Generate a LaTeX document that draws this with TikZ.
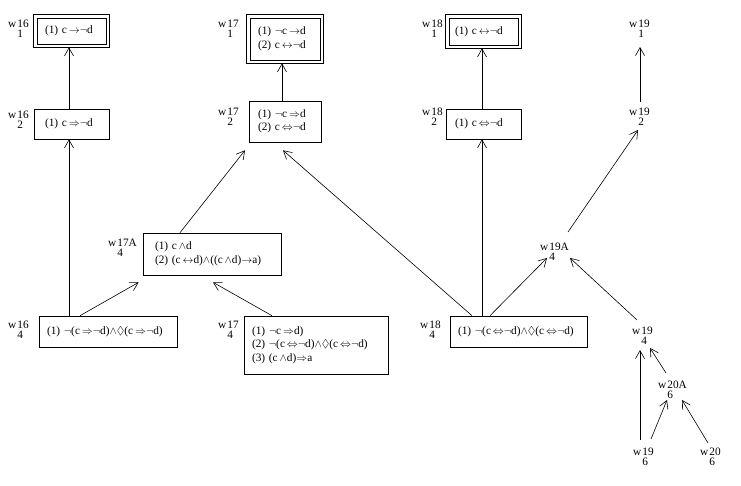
\documentclass[tikz,border=0pt]{standalone}
\usepackage{amssymb}
\usepackage{fontspec}
\setmainfont{Liberation Serif}
\usetikzlibrary{arrows.meta}
\newcommand\xR{$\mathord{\Rightarrow}$}
\newcommand\xT{$\mathord{\rightarrow}$}
\newcommand\xI{$\mathord{\Leftrightarrow}$}
\newcommand\xB{$\mathord{\leftrightarrow}$}
\newcommand\xN{$\neg$}
\newcommand\xA{$\mathord{\wedge}$}
\newcommand\xD{$\Diamond$}
\newcommand\wl[3]{w\kern1pt\vtop{\baselineskip=10pt\hbox{#1}\hbox{#2}}#3}
\tikzset{
  bx/.style={draw, line width=0.6pt, align=left, inner ysep=0pt, font=\fontsize{11.3}{13.5}\selectfont},
  outerline/.style={draw, line width=0.6pt},
  lab/.style={inner sep=0pt, anchor=base west, font=\fontsize{11.3}{13.5}\selectfont},
  arr/.style={-{Straight Barb[length=8pt,width=9pt]}, line width=0.6pt}
}
\begin{document}
\begin{tikzpicture}[x=1pt,y=-1pt]
\useasboundingbox (0,0) rectangle (741,486);
% boxes
\node[bx, text width=53pt, inner xsep=8pt, minimum height=26pt] (A1) at (71.5,31) {(1) c\,\xT\xN d};
\node[bx, text width=53pt, inner xsep=11pt, minimum height=30pt] (A2) at (71.5,124) {(1) c\,\xR\xN d};
\node[bx, text width=122pt, inner xsep=8pt, minimum height=31pt] (A4) at (108,331.5) {(1) \xN(c\,\xR\xN d)\xA\xD(c\,\xR\xN d)};
\node[bx, text width=54pt, inner xsep=8pt, minimum height=42pt] (B1) at (285,39) {(1) \xN c\,\xT d\\(2) c\,\xB\xN d};
\node[bx, text width=54pt, inner xsep=9pt, minimum height=41pt] (B2) at (285,121.5) {(1) \xN c\,\xR d\\(2) c\,\xI\xN d};
\node[bx, text width=114pt, inner xsep=12pt, minimum height=42pt] (B4A) at (212,254) {(1) c\,\xA d\\(2) (c\,\xB d)\xA((c\,\xA d)\xT a)};
\node[bx, text width=128pt, inner xsep=8pt, minimum height=58pt] (B4) at (316,345) {(1) \xN c\,\xR d)\\(2) \xN(c\,\xI\xN d)\xA\xD(c\,\xI\xN d)\\(3) (c\,\xA d)\xR a};
\node[bx, text width=57pt, inner xsep=6pt, minimum height=27pt] (C1) at (483.5,31.5) {(1) c\,\xB\xN d};
\node[bx, text width=57pt, inner xsep=9pt, minimum height=30pt] (C2) at (483.5,124) {(1) c\,\xI\xN d};
\node[bx, text width=121pt, inner xsep=8pt, minimum height=31pt] (C4) at (518.5,331.5) {(1) \xN(c\,\xI\xN d)\xA\xD(c\,\xI\xN d)};
% outer lines of the double boxes
\foreach \n in {A1,B1,C1}
  \path[outerline] ([shift={(-3,-3)}]\n.north west) rectangle ([shift={(3,3)}]\n.south east);
% labels
\node[lab] (L161) at (8,27.5) {\wl{16}{1}{}};
\node[lab] (L162) at (8,119) {\wl{16}{2}{}};
\node[lab] (L164) at (8,328) {\wl{16}{4}{}};
\node[lab] (L171) at (218,27.5) {\wl{17}{1}{}};
\node[lab] (L172) at (218,116) {\wl{17}{2}{}};
\node[lab] (L174A) at (108,247) {\wl{17}{4}{A}};
\node[lab] (L174) at (218,328) {\wl{17}{4}{}};
\node[lab] (L181) at (422,27.5) {\wl{18}{1}{}};
\node[lab] (L182) at (422,116) {\wl{18}{2}{}};
\node[lab] (L184) at (420,328) {\wl{18}{4}{}};
\node[lab] (L191) at (629,27.5) {\wl{19}{1}{}};
\node[lab] (L192) at (629,116) {\wl{19}{2}{}};
\node[lab] (L194A) at (540,251) {\wl{19}{4}{A}};
\node[lab] (L194) at (632,334) {\wl{19}{4}{}};
\node[lab] (L206A) at (658,388) {\wl{20}{6}{A}};
\node[lab] (L196) at (633,455) {\wl{19}{6}{}};
\node[lab] (L206) at (700,455) {\wl{20}{6}{}};
% connectors
\draw[arr] ([shift={(-2.5,0)}]A2.north) -- ([shift={(-2.5,3)}]A1.south);
\draw[arr] ([shift={(-39,0)}]A4.north) -- ([shift={(-2.5,0)}]A2.south);
\draw[arr] ([shift={(-28,0)}]A4.north) -- ([shift={(-4,7)}]B4A.south west);
\draw[arr] ([shift={(-44,0)}]B4.north) -- ([shift={(1,7)}]B4A.south);
\draw[arr] ([shift={(-32,0)}]B4A.north) -- ([shift={(-40,8)}]B2.south);
\draw[arr] ([shift={(-3,0)}]B2.north) -- ([shift={(-3,3)}]B1.south);
\draw[arr] ([shift={(-46.5,0)}]C4.north) -- ([shift={(-2,8)}]B2.south);
\draw[arr] ([shift={(-36.5,0)}]C4.north) -- ([shift={(-1.5,0)}]C2.south);
\draw[arr] ([shift={(-1.5,0)}]C2.north) -- ([shift={(-1.5,3)}]C1.south);
\draw[arr] ([shift={(-28.5,0)}]C4.north) -- ([shift={(7,7)}]L194A.base west);
\draw[arr] ([shift={(28,-19)}]L194A.base west) -- ([shift={(9,14)}]L192.base west);
\draw[arr] ([shift={(11,-14)}]L192.base west) -- ([shift={(11,19.5)}]L191.base west);
\draw[arr] ([shift={(5,-14)}]L194.base west) -- ([shift={(30,7)}]L194A.base west);
\draw[arr] ([shift={(7,-15)}]L196.base west) -- ([shift={(8,16)}]L194.base west);
\draw[arr] ([shift={(8,-15)}]L206A.base west) -- ([shift={(18,14)}]L194.base west);
\draw[arr] ([shift={(18,-16)}]L196.base west) -- ([shift={(9,12)}]L206A.base west);
\draw[arr] ([shift={(8,-12)}]L206.base west) -- ([shift={(24,12)}]L206A.base west);
\end{tikzpicture}
\end{document}
